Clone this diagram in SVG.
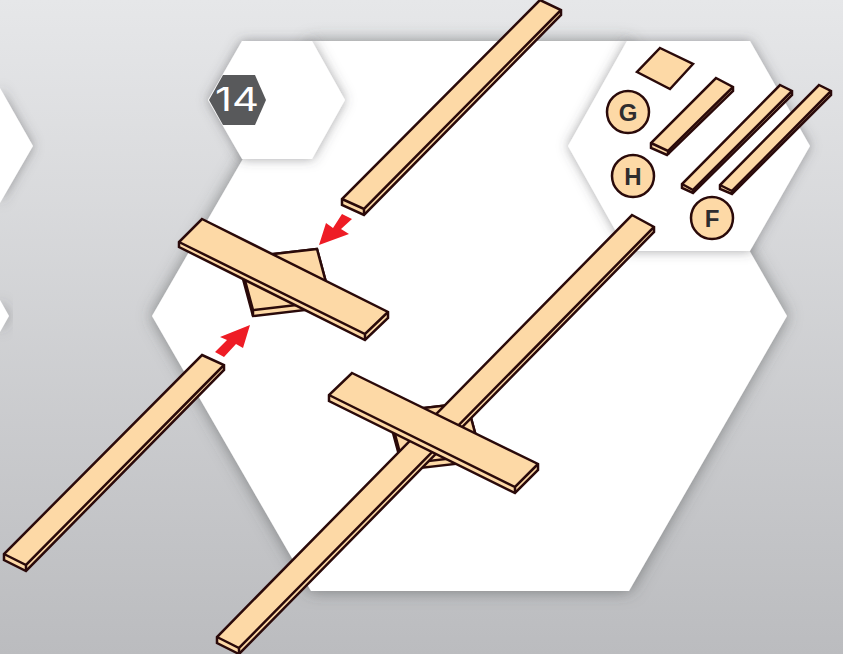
<svg xmlns="http://www.w3.org/2000/svg" width="843" height="654" viewBox="0 0 843 654">
<defs>
<linearGradient id="bg" x1="0" y1="0" x2="0" y2="1"><stop offset="0" stop-color="#e6e7e9"/><stop offset="1" stop-color="#bbbcbf"/></linearGradient>
<filter id="sh" x="-25%" y="-25%" width="150%" height="150%"><feDropShadow dx="0" dy="0" stdDeviation="8" flood-color="#4a4b4d" flood-opacity="0.6"/></filter>
<filter id="sh2" x="-40%" y="-40%" width="180%" height="180%"><feDropShadow dx="0" dy="0" stdDeviation="6" flood-color="#4a4b4d" flood-opacity="0.5"/></filter>
</defs>
<style>
.p{fill:#fff}
.b{fill:#fdd9a6;stroke:#2a0a0a;stroke-width:2.5;stroke-linejoin:miter}
.n{fill:none;stroke:#2a0a0a;stroke-width:2.5;stroke-linejoin:miter}
.a{fill:#ee1c25}
.l{font-family:"Liberation Sans",Arial,sans-serif;font-weight:700;font-size:24px;fill:#2f2d2e;text-anchor:middle}
</style>
<rect width="843" height="654" fill="url(#bg)"/>
<g id="panels">
<path class="p" filter="url(#sh)" d="M152,316L311,41H629L787,316L629,591H311Z"/>
<path class="p" filter="url(#sh2)" d="M208,100L242,41H312L345,100L312,159H242Z"/>
<path class="p" filter="url(#sh2)" d="M568,146L627,41H750L810,146L750,251H627Z"/>
<path class="p" filter="url(#sh2)" d="M33,146L0,88V203Z"/>
<path class="p" filter="url(#sh2)" d="M9,316L0,300V332Z"/>
</g>
<g id="step-number">
<path d="M209,100L223,75H255L266,100L255,125H223Z" fill="#58595b"/>
<text x="215" y="111" font-family="Inter,'Liberation Sans',sans-serif" font-size="32" font-weight="400" fill="#fff" textLength="44" lengthAdjust="spacingAndGlyphs">14</text>
</g>
<g id="parts-list">
<g id="part-square"><path class="b" d="M660,48L693,64L670,89L637,72Z"/></g>
<g id="part-board-g"><path class="b" d="M716,78L733,87V91L667,155L651,148V143Z"/><path class="n" d="M651,143L668,151L733,87M668,151V155"/></g>
<g id="part-board-h"><path class="b" d="M780,85L792,91V95L693,193L682,188V184Z"/><path class="n" d="M682,184L693,190L792,91M693,190V193"/></g>
<g id="part-board-f"><path class="b" d="M819,85L831,91V95L732,194L720,189V185Z"/><path class="n" d="M720,185L732,191L831,91M732,191V194"/></g>
<g id="label-g"><circle class="b" cx="628" cy="112" r="21"/><text class="l" x="628" y="120.500">G</text></g>
<g id="label-h"><circle class="b" cx="633" cy="176" r="21"/><text class="l" x="633" y="184.500">H</text></g>
<g id="label-f"><circle class="b" cx="712" cy="218" r="21"/><text class="l" x="712" y="226.500">F</text></g>
</g>
<g id="assembly-open">
<g id="plate-1"><path class="b" d="M317,249L239,258V264L253,316L331,307V301Z"/><path class="b" d="M317,249L239,258L253,310L331,301Z"/><path class="n" d="M253,310V316"/></g>
<g id="cross-1"><path class="b" d="M202,219L388,312V318L365,340L179,247V242Z"/><path class="n" d="M179,242L365,334L388,312M365,334V340"/></g>
<g id="rail-upper"><path class="b" d="M540,0L561,10V15L364,215L342,205V199Z"/><path class="n" d="M342,199L364,209L561,10M364,209V215"/></g>
<g id="rail-lower"><path class="b" d="M202,355L224,365V370L26,571L4,560V554Z"/><path class="n" d="M4,554L26,565L224,365M26,565V571"/></g>
</g>
<g id="assembly-done">
<g id="plate-2"><path class="b" d="M467,403L389,412V418L403,470L481,461V455Z"/><path class="b" d="M467,403L389,412L403,464L481,455Z"/></g>
<g id="rail-long"><path class="b" d="M632,215L654,227V232L239,654L217,643V637Z"/><path class="n" d="M217,637L239,648L654,227M239,648V654"/></g>
<g id="cross-2"><path class="b" d="M352,373L538,464V470L515,493L329,401V395Z"/><path class="n" d="M329,395L515,487L538,464M515,487V493"/></g>
</g>
<g id="connectors">
<path class="a" d="M319,245L326,223L333,228L342,214L352,219L341,229L349,234Z"/>
<path class="a" d="M250,325L220,337L227,340L215,352L224,357L236,344L243,348Z"/>
</g>
</svg>
